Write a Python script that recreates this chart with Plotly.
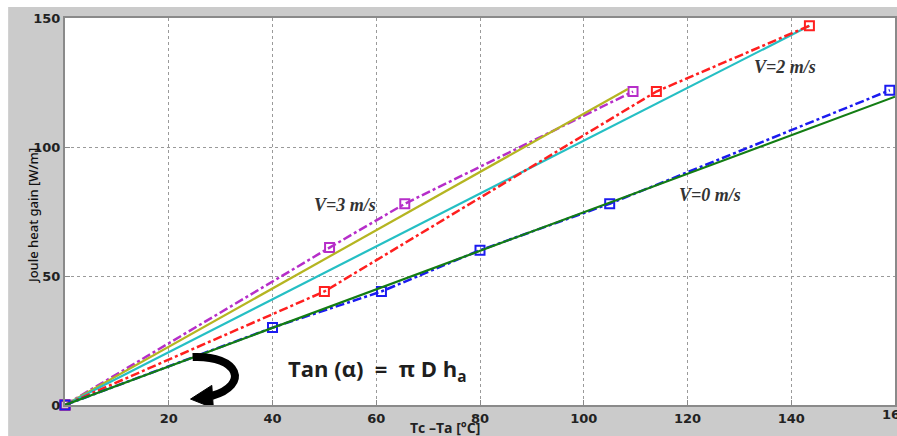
import plotly.graph_objects as go

# V = 0 m/s
v0_x = [0, 40, 61, 80, 105, 159]
v0_y = [0, 30, 44, 60, 78, 122]
fit0_x = [0, 160]
fit0_y = [0, 119.5]

# V = 2 m/s
v2_x = [0, 50, 114, 143.5]
v2_y = [0, 44, 121.5, 147]
fit2_x = [0, 143.5]
fit2_y = [0, 147]

# V = 3 m/s
v3_x = [0, 51, 65.5, 109.5]
v3_y = [0, 61, 78, 121.5]
fit3_x = [0, 108.5]
fit3_y = [0, 122.5]

x_ticks = [0, 20, 40, 60, 80, 100, 120, 140]
x_tick_labels = ["", "20", "40", "60", "80", "100", "120", "140"]
y_ticks = [0, 50, 100, 150]

GRAY = "#cbcbcb"
fig = go.Figure()

def measured(x, y, color):
    fig.add_trace(go.Scatter(
        x=x, y=y, mode="lines+markers",
        line=dict(color=color, width=2.5, dash="dashdot"),
        marker=dict(symbol="square-open", size=9, color=color, line=dict(width=2, color=color)),
        cliponaxis=False, showlegend=False))

def fit(x, y, color):
    fig.add_trace(go.Scatter(
        x=x, y=y, mode="lines", line=dict(color=color, width=2.2),
        showlegend=False))

measured(v3_x, v3_y, "#b62ec9")
fit(fit3_x, fit3_y, "#b5b521")
fit(fit2_x, fit2_y, "#25bfc4")
measured(v2_x, v2_y, "#ff1f1f")
measured(v0_x, v0_y, "#1b1bf0")
fit(fit0_x, fit0_y, "#137d13")

lab_font = dict(family="Liberation Serif", size=18, color="#333333", weight="bold", style="italic")
fig.add_annotation(x=54.0, y=77.5, text="V=3 m/s", showarrow=False, font=lab_font)
fig.add_annotation(x=138.7, y=131, text="V=2 m/s", showarrow=False, font=lab_font)
fig.add_annotation(x=124.4, y=81.4, text="V=0 m/s", showarrow=False, font=lab_font)
fig.add_annotation(x=42.6, y=13.6, xanchor="left", text="Tan (α)  =  π D h<sub>a</sub>", showarrow=False,
                   font=dict(family="Open Sans", size=22, color="#1e1e1e", weight="bold"))

# curved arrow
fig.add_shape(type="path", xref="x", yref="y",
              path="M 24.6 18.6 C 33.6 19.4 35.6 7.7 28.3 3.5",
              line=dict(color="black", width=8))
fig.add_shape(type="path", xref="x", yref="y",
              path="M 24.2 2.3 L 28.3 7.6 L 28.6 -1.2 Z",
              fillcolor="black", line=dict(color="black", width=1))

# white strips of the border
fig.add_shape(type="rect", xref="paper", yref="paper", x0=-0.1, x1=-65/832 + 8/832, y0=-0.2, y1=1.2,
              fillcolor="white", line_width=0, layer="below")
fig.add_shape(type="rect", xref="paper", yref="paper", x0=-0.2, x1=1.2, y0=1 + 11/387, y1=1.2,
              fillcolor="white", line_width=0, layer="below")

tick_font = dict(family="DejaVu Sans", size=13, color="#222", weight="bold")
fig.add_annotation(x=160, xref="x", yref="paper", y=-9 / 387, yanchor="middle", text="160",
                   showarrow=False, font=tick_font)

fig.add_annotation(xref="paper", yref="paper", x=(446 - 65) / 832, y=-22.5 / 387, yanchor="middle",
                   text="Tc –Ta [°C]", showarrow=False, borderpad=0,
                   font=dict(family="Open Sans", size=14, color="#222", weight="bold"))
fig.add_annotation(xref="paper", yref="paper", x=-43 / 832, y=(405 - 216) / 387, textangle=-90,
                   text="Joule heat gain [W/m]", showarrow=False,
                   font=dict(family="Noto Sans", size=13, color="#111", weight=500))

axis_common = dict(showgrid=True, gridcolor="#9a9a9a", griddash="dot", gridwidth=1.2,
                   showline=True, linecolor="#8a8a8a", linewidth=2, mirror=True,
                   ticks="inside", ticklen=5, tickcolor="#8a8a8a", zeroline=False,
                   tickfont=tick_font)

fig.update_xaxes(range=[0, 160], tickvals=x_ticks, ticktext=x_tick_labels, **axis_common)
fig.update_yaxes(range=[0, 150], tickvals=y_ticks, **axis_common)

fig.update_layout(width=897, height=436, margin=dict(l=65, r=0, t=18, b=31),
                  paper_bgcolor=GRAY, plot_bgcolor="white")

fig.write_html("out.html")
